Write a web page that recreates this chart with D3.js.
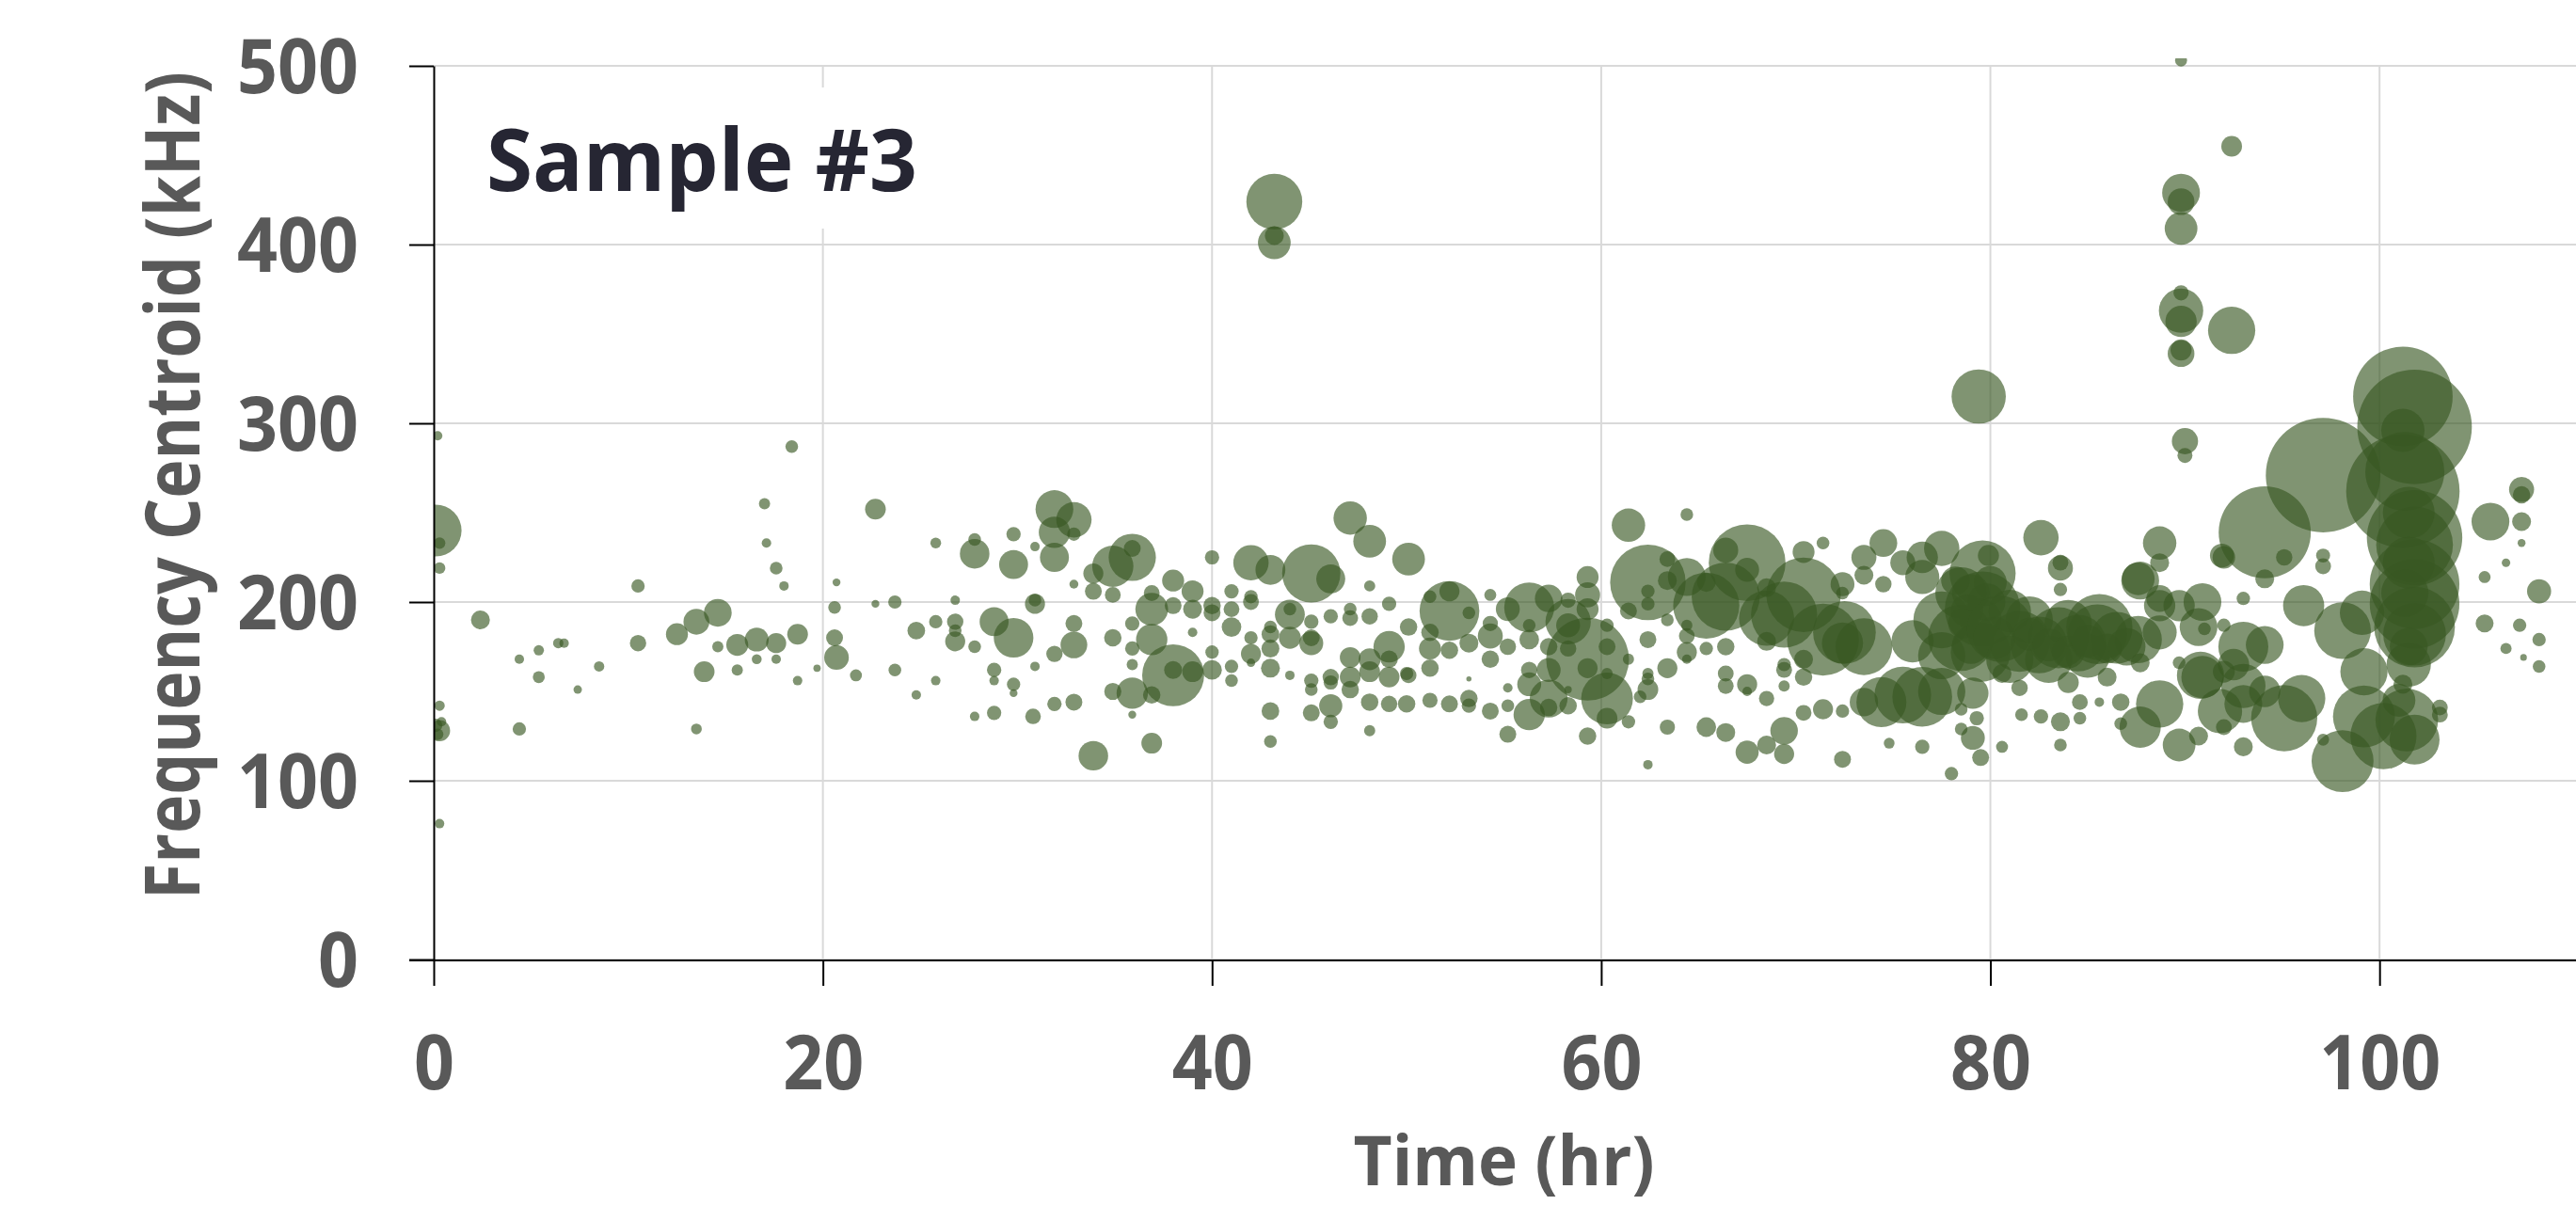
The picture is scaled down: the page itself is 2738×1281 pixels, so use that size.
<!DOCTYPE html>
<html>
<head>
<meta charset="utf-8">
<script src="https://cdn.jsdelivr.net/npm/d3@7"></script>
<style>
  html, body { margin: 0; padding: 0; background: #fff; }
  svg { display: block; }
  text { font-family: "Open Sans", "Liberation Sans", sans-serif; font-weight: 700; }
</style>
</head>
<body>
<div id="chart"></div>
<script>
// [time (hr), frequency centroid (kHz), bubble size]
const pts0to20 = [
  [0.1,240,30],[0.3,233,1.5],[0.3,219,1.5],[0.2,293,1],[0.3,142,1.2],[0.3,128,5],[0.1,131,2],[0.2,126,1.5],
  [0.4,133,1],[0.3,76,1],[2.4,190,4],[4.4,168,1],[5.4,173,1.2],[6.4,177,1.2],[5.4,158,1.6],[7.4,151,0.8],
  [8.5,164,1.2],[4.4,129,2],[6.7,177,1],[10.5,209,2],[10.5,177,3],[12.5,182,5.4],[13.5,189,7.5],[14.6,194,8.6],
  [13.9,161,4.8],[14.6,175,1.4],[15.6,176,5.4],[15.6,162,1.4],[16.6,179,6.4],[16.6,168,1.1],[17.6,177,4.5],
  [17.6,168,1],[18.7,182,4.8],[18.7,156,1],[13.5,129,1.3],[18.4,287,1.8],[17.0,255,1.4],[17.1,233,1],
  [17.6,219,1.8],[18.0,209,1],[19.7,163,0.6]
];
const pts20to40 = [
  [20.7,211,0.7],[20.6,197,1.8],[20.6,180,3.2],[20.7,169,6.8],[22.7,252,4.8],[22.7,199,0.7],[23.7,200,2],
  [21.7,159,1.6],[23.7,162,1.8],[24.8,184,3.5],[24.8,148,1],[25.8,233,1.3],[25.8,189,2],[25.8,156,1],
  [26.8,201,1],[26.8,189,3],[26.8,184,1.8],[26.8,178,4.5],[27.8,227,9.8],[27.8,235,1.8],[27.8,175,1.8],
  [27.8,136,1],[28.8,189,9.4],[28.8,162,2.3],[28.8,156,1],[28.8,138,2.3],[29.8,238,2.3],[29.8,221,9.4],
  [29.8,180,17.6],[29.8,154,2],[29.8,149,0.7],
  [30.9,231,1],[30.9,199,4.5],[30.9,201,1.8],[30.8,136,2.7],[30.9,164,1],[31.9,252,16],[32.9,246,14],
  [31.9,239,11],[31.9,225,9.4],[32.9,238,2],[32.9,210,0.9],[32.9,188,3.2],[32.9,176,8],[31.9,171,3],
  [31.9,143,2.3],[32.9,144,3.2],[33.9,216,4.5],[33.9,206,3.2],[33.9,114,9.8],[34.9,220,19],[34.9,204,2.8],
  [34.9,180,3.4],[34.9,150,3.3],[35.9,225,25],[35.9,230,3.2],[35.9,188,2.3],[35.9,174,2.3],[35.9,165,1.4],
  [35.9,149,11],[35.9,137,0.7],[36.9,196,12],[36.9,179,11],[36.9,205,2.8],[36.9,148,3.4],[36.9,121,4.8],
  [38.0,159,43],[38.0,212,5.4],[38.0,198,3.2],[38.0,162,3.6],[39.0,161,4.8],[39.0,206,5.4],[39.0,196,4],
  [39.0,183,1]
];
const pts40to60 = [
  [40.0,225,2.3],[40.0,198,3.4],[40.0,194,3.2],[40.0,172,2],[40.0,162,4.3],[41.0,206,2.3],[41.0,196,2.8],
  [41.0,186,4.3],[41.0,164,2],[41.0,156,1.8],[42.0,222,14],[43.0,218,10],[42.0,203,2],[42.0,200,2.8],
  [42.0,180,2],[42.0,171,4.5],[42.0,166,0.8],[43.0,186,1.8],[43.0,182,3.5],[43.0,174,3.6],[43.0,163,4],
  [43.0,139,3.5],[43.0,122,1.8],[43.2,424,35],[43.2,401,12],[43.2,405,4],
  [45.1,216,38],[46.1,213,9.4],[47.1,247,12.5],[48.1,234,12],[48.1,209,1.4],[44.0,196,1.8],[44.0,193,10],
  [44.0,180,5.4],[45.1,189,2.3],[45.1,180,3.2],[45.1,177,6.4],[44.0,159,1],[45.1,156,2.3],[45.1,151,1.8],
  [46.1,158,3],[46.1,155,2.3],[46.1,142,6],[46.1,133,2.3],[45.1,138,3.2],[46.1,192,2.3],[47.1,196,1.8],
  [47.1,191,2.8],[48.1,192,3],[49.1,199,2.3],[47.1,169,4.8],[47.1,158,4.8],[47.1,151,3.4],[48.1,168,5.4],
  [48.1,161,4.8],[49.1,175,11],[49.1,168,3.4],[49.1,158,4.8],[48.1,144,3.4],[49.1,143,3],[48.1,128,1.4],
  [50.1,224,12],[50.0,143,3.4],[50.0,160,2],[50.1,186,3.4],[50.1,159,2.8],[52.2,195,40],[52.2,206,4.5],
  [51.2,203,1.8],[53.2,194,1.8],[51.2,183,3.4],[51.2,174,5.4],[52.2,173,3.4],[53.2,177,4],[51.2,163,3.4],
  [51.2,145,2.6],[52.2,143,3.2],[53.2,157,0.3],[53.2,146,3.4],[53.2,142,2.3],[54.3,204,1.6],[54.3,181,7],
  [54.3,188,2.6],[54.3,168,3.4],[54.3,139,3.2],[55.2,175,3],[55.2,196,6.4],[55.2,152,1],[55.2,142,1.8],
  [55.2,126,3.2],[56.3,197,28],[56.3,187,1.8],[56.3,179,4.3],[56.3,162,3],[56.3,154,6.4],[56.3,137,11],
  [57.3,202,8.5],[57.3,175,3.4],[57.3,162,6.4],[57.3,146,16],[57.3,141,3.4],[58.3,201,2.6],[58.3,189,23],
  [58.3,187,6.4],[58.3,174,3],[58.3,151,0.6],[58.3,142,3.4],[59.3,168,77],[59.3,214,5.4],[59.3,204,7],
  [59.3,196,5.4],[59.3,163,4.5],[59.3,125,3.4]
];
const pts60to80 = [
  [60.3,187,2],[60.3,175,3.2],[60.3,146,30],[60.3,160,1.4],[60.3,135,4.8],[61.4,168,1.4],[61.4,133,2],
  [61.4,195,3.2],[61.4,243,12.5],[62.4,211,64],[62.4,206,2],[62.4,199,2],[62.4,179,3.2],[62.4,160,1.4],
  [62.4,157,1.8],[62.4,151,4.8],[62.0,147,1.8],[62.4,109,1],[63.4,163,4.5],[63.4,190,1.8],[63.4,130,2.6],
  [63.4,224,2.8],[63.4,212,4],[64.4,249,1.8],[64.4,214,16],[64.4,187,1.4],[64.4,181,2.8],[64.4,172,4.5],
  [64.4,168,1],[65.4,198,49],[65.4,211,4],[65.4,174,2],[65.4,130,4.3],[66.4,203,52],[66.4,229,7],
  [67.5,222,66],[67.5,218,6.4],[66.4,175,3.4],[66.4,160,2.8],[66.4,153,2.8],[66.4,127,4],[67.5,154,4.5],
  [67.5,150,1],[67.5,116,6],[68.5,191,34],[68.5,178,4],[68.5,208,4],[68.5,146,2.6],[68.5,120,4],
  [69.4,193,49],[69.4,128,8.5],[69.4,115,4.5],[69.4,162,2.8],[69.4,153,1.4],[69.4,165,2],
  [70.4,204,62],[70.4,228,5.4],[70.4,168,4],[70.4,158,3.4],[70.4,138,2.8],[71.4,179,58],[71.4,233,1.8],
  [71.4,140,4.5],[72.4,210,6.4],[72.4,205,1.8],[72.4,177,19],[72.4,112,3.2],[72.4,139,2],[73.5,225,7],
  [73.5,215,4],[73.5,144,9],[73.5,175,36],[72.5,183,44],[74.5,233,8.6],[75.5,222,7],[76.5,225,11],
  [77.5,230,14],[76.5,214,13],[74.5,210,3],[75.5,148,36],[74.4,144,28],[76.5,147,40],[77.5,150,25],
  [79.1,149,11],[79.1,124,6.4],[79.5,113,3.2],[78.0,104,2],[76.5,119,2.3],[74.8,121,1.3],[78.5,129,1.8],
  [79.3,135,2.3],[78.5,140,1.8],[79.4,315,33],[79.6,216,49],[78.5,205,30],[79.6,196,64],[77.5,190,36],
  [78.5,180,49],[79.5,172,40],[76.0,178,20],[77.5,170,25],
  [79.0,205,16],[79.8,200,16],[79.5,190,20],[80.0,211,12],[78.8,195,12],[79.0,176,16],[78.2,212,9],
  [79.9,226,5],[78.6,188,10]
];
const pts80to90 = [
  [80.5,185,49],[80.6,119,1.6],[81.5,178,42],[82.5,176,36],[83.5,180,42],[84.5,177,36],[85.5,182,40],
  [86.5,180,30],[82.0,190,25],[84.0,188,25],[81.0,168,25],[83.0,168,25],[85.0,170,22],[87.0,175,16],
  [80.2,180,20],[81.0,195,20],[82.0,182,12],[83.0,176,12],[84.0,172,12],[85.0,178,12],[86.0,174,10],
  [81.6,137,1.8],[82.6,136,2.3],[83.6,133,4],[83.6,120,1.8],[84.6,135,1.8],[84.6,144,2.8],[85.6,144,1],
  [86.7,144,3.4],[86.7,132,1.8],[80.6,160,4],[81.5,152,3],[84.0,155,5],[86.0,158,4],[82.6,236,14],
  [83.6,219,7],[83.6,222,2.8],[83.6,207,2],[87.7,212,16],[87.6,213,12],[88.7,233,12.5],[88.7,222,4],
  [87.6,179,25],[85.6,186,49],[88.7,198,11],[89.7,198,11],[88.7,183,13],[89.7,166,1.8],[87.7,166,4],
  [88.7,202,8],[87.7,130,19],[88.7,143,25],[89.7,120,12],[89.8,503,1.6],[89.8,429,16],[89.8,424,8],
  [89.8,409,12],[89.8,373,2.6],[89.8,363,22],[89.8,357,11],[89.8,339,8],[89.8,341,5],[90.0,290,7.7],
  [90.0,282,2.5]
];
const pts90to110 = [
  [92.4,455,4.8],[92.4,352,25],[90.7,125,4],[92.0,130,2.8],[93.0,119,4],[95.1,135,49],[93.0,143,16],
  [90.8,159,25],[90.9,158,20],[92.0,161,5.4],[94.1,176,16],[93.0,175,28],[92.5,165,11],[92.0,187,2],
  [90.9,200,16],[90.7,186,16],[91.0,185,1.8],[91.8,139,22],[94.1,150,11],[93.0,153,22],[96.0,146,25],
  [97.1,123,1.6],[94.1,239,95],[97.1,271,147],[92.0,225,5.7],[91.9,226,6.4],[95.1,225,3],[94.1,213,4],
  [93.0,202,2],[97.1,226,2.2],[97.1,220,2.8],[96.1,198,19],[101.2,315,111],[101.8,298,147],[101.2,296,21],
  [101.2,262,144],[101.3,273,70],[101.8,236,102],[101.8,232,66],[101.8,210,90],[101.8,199,90],
  [101.8,186,73],[101.8,182,44],[101.5,165,22],[101.2,154,4],[101.4,134,44],[101.8,123,28],[100.2,125,49],
  [99.2,136,43],[98.1,111,43],[103.1,141,2.8],[103.1,137,2.8],[99.2,161,25],[98.1,184,36],[99.1,194,22],
  [101.5,250,30],[101.5,222,30],[101.3,205,25],[101.5,175,16],[101.0,145,12],
  [107.3,263,7],[107.3,260,3.4],[107.3,245,4],[107.3,233,0.7],[106.5,222,0.8],[105.7,245,16],
  [105.4,214,1.6],[108.2,206,6.5],[105.4,188,3.6],[107.2,187,2],[108.2,179,2],[106.5,174,1.4],
  [107.4,169,0.5],[108.2,164,1.8]
];

const xTicks = [0, 20, 40, 60, 80, 100];
const yTicks = [0, 100, 200, 300, 400, 500];
const chartTitle = "Sample #3";
const xTitle = "Time (hr)";
const yTitle = "Frequency Centroid (kHz)";

const W = 2738, H = 1281;
const plotLeft = 461, plotRight = 2736, plotTop = 70, plotBottom = 1020;
const grey = "#595959";

const points = [...pts0to20, ...pts20to40, ...pts40to60, ...pts60to80, ...pts80to90, ...pts90to110];

const svg = d3.select("#chart").append("svg")
  .attr("width", W).attr("height", H)
  .style("background", "#fff");

const x = d3.scaleLinear().domain([0, 110]).range([plotLeft, plotRight]);
const y = d3.scaleLinear().domain([0, 500]).range([plotBottom, plotTop]);
const r = d3.scaleSqrt().domain([0, 150]).range([0, 61.5]);

// gridlines
svg.append("g").selectAll("line").data(yTicks).join("line")
  .attr("x1", plotLeft).attr("x2", W).attr("y1", d => y(d)).attr("y2", d => y(d))
  .attr("stroke", "#d9d9d9").attr("stroke-width", 2);
svg.append("g").selectAll("line").data(xTicks.filter(d => d > 0)).join("line")
  .attr("x1", d => x(d)).attr("x2", d => x(d)).attr("y1", plotTop).attr("y2", plotBottom)
  .attr("stroke", "#d9d9d9").attr("stroke-width", 2);

// bubbles, clipped to the plot area like Excel does
svg.append("clipPath").attr("id", "plotClip").append("rect")
  .attr("x", plotLeft).attr("y", 62).attr("width", W - plotLeft).attr("height", plotBottom - 62);

svg.append("g").attr("clip-path", "url(#plotClip)")
  .selectAll("circle").data(points).join("circle")
  .attr("cx", d => x(d[0]))
  .attr("cy", d => y(d[1]))
  .attr("r", d => r(d[2]))
  .attr("fill", "#385723")
  .attr("fill-opacity", 0.64);

// axes
const yAxis = svg.append("g").attr("transform", `translate(${plotLeft},0)`)
  .call(d3.axisLeft(y).tickValues(yTicks).tickSize(26).tickSizeOuter(0).tickPadding(54));
const xAxis = svg.append("g").attr("transform", `translate(0,${plotBottom + 1})`)
  .call(d3.axisBottom(x).tickValues(xTicks).tickSize(27).tickSizeOuter(0));

[yAxis, xAxis].forEach(g => {
  g.select(".domain").attr("stroke", "#000").attr("stroke-width", 2);
  g.selectAll(".tick line").attr("stroke", "#000").attr("stroke-width", 2);
  g.selectAll(".tick text")
    .attr("fill", grey)
    .style("font-size", "80px")
    .attr("textLength", d => String(d).length * 43)
    .attr("lengthAdjust", "spacingAndGlyphs");
});
yAxis.selectAll(".tick text").attr("dy", "0.35em");
xAxis.select(".domain").attr("d", `M${plotLeft - 26},0H${W}`);
xAxis.selectAll(".tick text").attr("y", 137).attr("dy", 0);

// title box + title
svg.append("rect").attr("x", 480).attr("y", 93).attr("width", 530).attr("height", 150).attr("fill", "#fff");
svg.append("text").attr("x", 517).attr("y", 203)
  .attr("fill", "#262633").style("font-size", "92px")
  .attr("textLength", 458).attr("lengthAdjust", "spacingAndGlyphs")
  .text(chartTitle);

// axis titles
svg.append("text").attr("x", (plotLeft + plotRight) / 2).attr("y", 1260)
  .attr("text-anchor", "middle").attr("fill", grey).style("font-size", "74px")
  .attr("textLength", 320).attr("lengthAdjust", "spacingAndGlyphs")
  .text(xTitle);

// y title: squeeze along its length with a transform so its box stays true
const yt = svg.append("text")
  .attr("text-anchor", "middle").attr("fill", grey).style("font-size", "80px")
  .text(yTitle);
const squeeze = 880 / yt.node().getComputedTextLength();
yt.attr("transform", `translate(212,516) rotate(-90) scale(${squeeze},1)`);
</script>
</body>
</html>
